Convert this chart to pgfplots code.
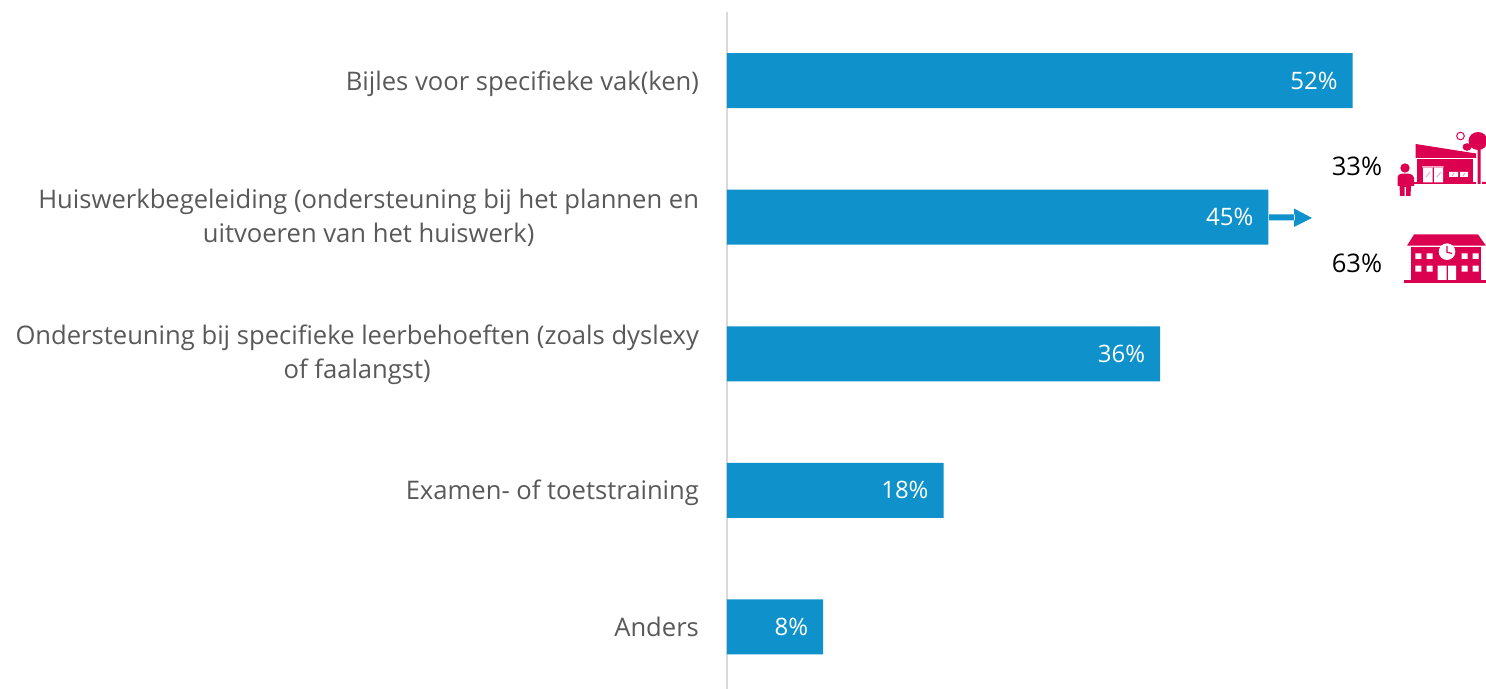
\documentclass[border=0pt]{standalone}
\usepackage{pgfplots}
\pgfplotsset{compat=1.18}
\usepackage{fontspec}
\setmainfont{Open Sans}
\definecolor{barblue}{HTML}{0F91CB}
\definecolor{labgray}{HTML}{595959}
\definecolor{axgray}{HTML}{D9D9D9}
\definecolor{crim}{HTML}{DC0050}
\newcommand\st{\rule[-3.1pt]{0pt}{15.1pt}}
\pgfplotstableread{
y val
0 52
1 45
2 36
3 18
4 8
}\bars
\begin{document}
\begin{tikzpicture}
\useasboundingbox (-363.5pt,0) rectangle (379.5pt,344.5pt);
\begin{axis}[
  at={(0,0)}, anchor=south west,
  scale only axis, width=379.5pt, height=338.5pt,
  xmin=0, xmax=63.09, ymin=-0.502, ymax=4.454, y dir=reverse,
  xbar, bar width=27.5pt, bar shift=0pt,
  axis x line=none, axis y line*=left,
  axis line style={axgray, line width=1pt},
  ytick={0,1,2,3,4},
  major tick length=0pt,
  yticklabels={\st Bijles voor specifieke vak(ken),
    {Huiswerkbegeleiding (ondersteuning bij het plannen en\\uitvoeren van het huiswerk)},
    {Ondersteuning bij specifieke leerbehoeften (zoals dyslexy\\of faalangst)},
    \st Examen- of toetstraining, \st Anders},
  yticklabel style={font=\fontsize{12.8}{17}\selectfont, text=labgray, align=center, xshift=-10.5pt, yshift=-0.3pt},
  clip=false,
  nodes near coords={\pgfmathprintnumber[assume math mode=true]{\pgfplotspointmeta}\%},
  point meta=x,
  every node near coord/.append style={anchor=east, text=white, font=\fontsize{12}{13}\selectfont, xshift=-4pt},
]
\addplot[fill=barblue, draw=none] table[x=val, y=y] {\bars};
\end{axis}
\begin{scope}[shift={(-363.5pt,344.5pt)}, x=0.5pt, y=-0.5pt]
  % arrow
  \fill[barblue] (1269,214.5) rectangle (1295,220.5) (1294,208.5) -- (1312,218) -- (1294,227) -- cycle;
  \node[font=\fontsize{12.8}{13}\selectfont] at (1357,166) {33\%};
  \node[font=\fontsize{12.8}{13}\selectfont] at (1357,263) {63\%};
  % school
  \fill[crim] (1407,245.7) -- (1414,234.5) -- (1478,234.5) -- (1486,245.7) -- cycle;
  \fill[crim] (1410.5,247) rectangle (1481,280.5);
  \fill[crim] (1404,280) rectangle (1486,282.8);
  \fill[white] (1415.3,253.3) rectangle (1421.3,259) (1426.7,253.3) rectangle (1432.7,259)
    (1461.7,253.3) rectangle (1467.7,259) (1472.7,253.3) rectangle (1478.7,259)
    (1415.3,265.7) rectangle (1421.3,271.7) (1426.7,265.7) rectangle (1432.7,271.7)
    (1461.7,265.7) rectangle (1467.7,271.7) (1472.7,265.7) rectangle (1478.7,271.7)
    (1437.7,265.7) rectangle (1446.7,280) (1448,265.7) rectangle (1456,280);
  \fill[white] (1447,251.7) circle (8.3);
  \draw[crim, line width=0.6pt] (1447,246) -- (1447,252.2) -- (1452,253.5);
  % shop
  \fill[crim] (1415.7,144) -- (1476,153.5) -- (1476,158) -- (1415.7,158) -- cycle;
  \fill[crim] (1417,159) rectangle (1473,183);
  \fill[crim] (1414,182.5) rectangle (1476,184);
  \fill[white] (1423,168) rectangle (1432.5,182.5) (1434,168) rectangle (1443,182.5)
    (1449,172) rectangle (1458,177) (1460,172) rectangle (1468,177)
    (1422,166.3) rectangle (1443.5,167.3);
  \draw[crim!35, line width=0.5pt] (1426,177) -- (1430,172) (1437,177) -- (1441,172)
    (1452,176) -- (1454,173) (1463,176) -- (1465,173);
  % trees
  \fill[crim] (1477.5,148) rectangle (1480.5,184) (1482,182) rectangle (1486,184);
  \fill[crim] (1478,141) ellipse (9.5 and 9);
  \fill[crim] (1467,147) ellipse (4.5 and 3.8);
  \draw[crim, line width=0.5pt] (1460.5,136) circle (3.8);
  % person
  \fill[crim] (1405,168) circle (4.7);
  \fill[crim] (1397.5,178) .. controls (1397.5,174.5) and (1400,173.5) .. (1405,173.5) .. controls (1410,173.5) and (1413.5,174.5) .. (1414,178) -- (1414,186) -- (1411,186) -- (1410.5,196) -- (1406,196) -- (1406,187) -- (1404.5,187) -- (1404.5,196) -- (1400,196) -- (1399.5,186) -- (1397.5,186) -- cycle;
\end{scope}
\end{tikzpicture}
\end{document}
